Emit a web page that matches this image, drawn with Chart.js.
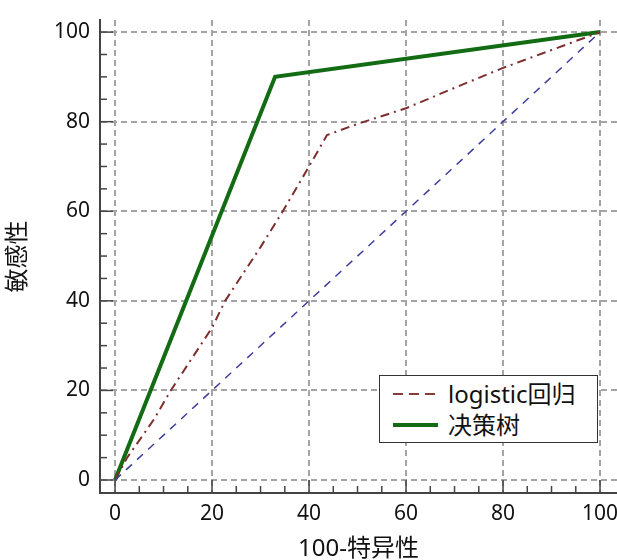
<!DOCTYPE html>
<html lang="zh">
<head>
  <meta charset="UTF-8" />
  <title>ROC</title>
  <script src="https://cdn.jsdelivr.net/npm/chart.js"></script>
  <style>
    * { box-sizing: border-box; margin: 0; padding: 0; }
    body { background: #fff; font-family: 'Noto Sans', 'Noto Sans CJK SC', sans-serif; }
    .wrap { position: relative; width: 617px; height: 560px; }
    .legend {
      position: absolute;
      left: 379px; top: 375px;
      width: 219px; height: 68px;
      border: 1.5px solid #333;
      background: #fff;
      padding: 2px 0 0 12px;
      font-size: 24px;
      line-height: 31px;
      color: #111;
    }
    .legend div { display: flex; align-items: center; white-space: nowrap; }
    .legend svg { margin-right: 10px; }
  </style>
</head>
<body>
  <div class="wrap">
    <canvas id="roc" width="617" height="560"></canvas>
    <div class="legend">
      <div><svg width="46" height="10"><line x1="1" y1="5" x2="46" y2="5" stroke="#8a3b3b" stroke-width="2" stroke-dasharray="10,6"/></svg>logistic回归</div>
      <div><svg width="46" height="10"><line x1="1" y1="5" x2="46" y2="5" stroke="#136b13" stroke-width="4"/></svg>决策树</div>
    </div>
  </div>

  <script>
    // values (100-specificity, sensitivity)
    const logisticX = [0, 2.5, 8, 11.5, 20, 22.7, 30, 34.6, 40, 43.7, 50, 60, 71, 80, 90, 100];
    const logisticY = [0, 5, 13.5, 20, 34, 40, 52, 60, 70, 77, 79.5, 83, 88, 92, 96, 100];
    const treeX = [0, 33, 100];
    const treeY = [0, 90, 100];
    const diagX = [0, 100];
    const diagY = [0, 100];
    const majorTicks = [0, 20, 40, 60, 80, 100];
    const minorTicks = [0, 5, 10, 15, 20, 25, 30, 35, 40, 45, 50, 55, 60, 65, 70, 75, 80, 85, 90, 95, 100];

    const pts = (xs, ys) => xs.map((x, i) => ({ x: x, y: ys[i] }));
    const font = { family: "'Noto Sans', 'Noto Sans CJK SC', sans-serif", size: 21 };

    // small inward ticks on the left and bottom axes
    const innerTicks = {
      id: 'innerTicks',
      afterDraw(chart) {
        const c = chart.ctx, xs = chart.scales.x, ys = chart.scales.y;
        const a = chart.chartArea;
        c.save();
        c.strokeStyle = '#444';
        c.lineWidth = 1.5;
        minorTicks.forEach(v => {
          const len = v % 20 === 0 ? 13 : 7;
          const py = ys.getPixelForValue(v);
          c.beginPath(); c.moveTo(a.left, py); c.lineTo(a.left + len, py); c.stroke();
          const px = xs.getPixelForValue(v);
          c.beginPath(); c.moveTo(px, a.bottom); c.lineTo(px, a.bottom - len); c.stroke();
        });
        c.restore();
      }
    };

    const gridColor = ctx => (majorTicks.includes(ctx.tick.value) ? '#a4a4a4' : 'transparent');

    new Chart(document.getElementById('roc'), {
      type: 'line',
      data: {
        datasets: [
          {
            label: 'diag',
            data: pts(diagX, diagY),
            borderColor: '#3e3e9c',
            borderWidth: 1.5,
            borderDash: [8, 7]
          },
          {
            label: 'logistic回归',
            data: pts(logisticX, logisticY),
            borderColor: '#7e2e2e',
            borderWidth: 2,
            borderDash: [9, 5, 2, 5]
          },
          {
            label: '决策树',
            data: pts(treeX, treeY),
            borderColor: '#136b13',
            borderWidth: 4
          }
        ]
      },
      options: {
        responsive: false,
        animation: false,
        elements: { point: { radius: 0 }, line: { tension: 0 } },
        layout: { padding: { top: 20, right: 0, left: 0, bottom: 0 } },
        plugins: { legend: { display: false }, tooltip: { enabled: false } },
        scales: {
          x: {
            type: 'linear',
            min: -3.1,
            max: 103.5,
            afterBuildTicks: s => { s.ticks = minorTicks.map(v => ({ value: v })); },
            afterFit: s => { s.height = 67; s.paddingLeft = 0; s.paddingRight = 0; },
            ticks: {
              autoSkip: false,
              maxRotation: 0,
              padding: 8,
              color: '#111',
              font: font,
              callback: v => (majorTicks.includes(v) ? v : '')
            },
            grid: { color: gridColor, lineWidth: 2, drawTicks: false },
            border: { display: true, color: '#444', width: 2, dash: [6, 4] },
            title: { display: true, text: '100-特异性', color: '#111', font: { family: font.family, size: 24 }, padding: { top: 4, bottom: -4 } }
          },
          y: {
            type: 'linear',
            min: -2.9,
            max: 102.7,
            afterBuildTicks: s => { s.ticks = minorTicks.map(v => ({ value: v })); },
            afterFit: s => { s.width = 100; s.paddingTop = 0; s.paddingBottom = 0; },
            ticks: {
              autoSkip: false,
              padding: 10,
              color: '#111',
              font: font,
              callback: v => (majorTicks.includes(v) ? v : '')
            },
            grid: { color: gridColor, lineWidth: 2, drawTicks: false },
            border: { display: true, color: '#444', width: 2, dash: [6, 4] },
            title: { display: true, text: '敏感性', color: '#111', font: { family: font.family, size: 24 }, padding: { bottom: 0 } }
          }
        }
      },
      plugins: [innerTicks]
    });
  </script>
</body>
</html>
